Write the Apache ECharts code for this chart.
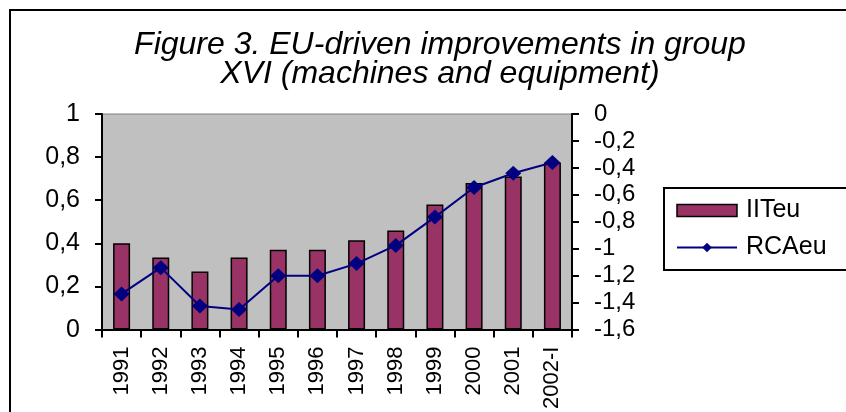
<!DOCTYPE html>
<html>
<head>
<meta charset="utf-8">
<script src="https://cdn.jsdelivr.net/npm/echarts@6/dist/echarts.min.js"></script>
<style>
html,body{margin:0;padding:0;background:#fff;}
#chart{width:846px;height:412px;}
</style>
</head>
<body>
<div id="chart"></div>
<script>
const categories = ['1991','1992','1993','1994','1995','1996','1997','1998','1999','2000','2001','2002-I'];
const iiteu = [0.40, 0.335, 0.27, 0.335, 0.37, 0.37, 0.415, 0.46, 0.58, 0.68, 0.71, 0.775];
const rcaeu = [-1.335, -1.14, -1.425, -1.45, -1.20, -1.20, -1.11, -0.975, -0.765, -0.545, -0.44, -0.36];
const leftTickLabels = ['0','0,2','0,4','0,6','0,8','1'];
const rightTickLabels = ['-1,6','-1,4','-1,2','-1','-0,8','-0,6','-0,4','-0,2','0'];
const titleText = 'Figure 3. EU-driven improvements in group\nXVI (machines and equipment)';

const FONT = 'Liberation Sans, Arial, sans-serif';
const chart = echarts.init(document.getElementById('chart'));
chart.setOption({
  animation: false,
  backgroundColor: '#ffffff',
  graphic: [{
    type: 'rect', silent: true, z: -10,
    shape: {x: 10, y: 10, width: 900, height: 500},
    style: {fill: 'none', stroke: '#000', lineWidth: 2}
  }],
  title: {
    text: titleText,
    left: 440, top: 31, padding: 0,
    textAlign: 'center',
    textStyle: {fontFamily: FONT, fontStyle: 'italic', fontWeight: 'normal', fontSize: 32, lineHeight: 29, color: '#000'}
  },
  grid: {
    left: 102, top: 114, right: 274, bottom: 79,
    show: true, backgroundColor: '#c0c0c0', borderColor: '#808080', borderWidth: 1
  },
  legend: {
    orient: 'vertical', left: 664, top: 188,
    padding: [10, 30, 10, 12],
    itemWidth: 60, itemHeight: 12, itemGap: 12,
    borderColor: '#000', borderWidth: 2, backgroundColor: '#fff',
    textStyle: {fontFamily: FONT, fontSize: 25, color: '#000', padding: [0, 0, 0, 4]},
    data: [
      {name: 'IITeu', icon: 'rect', itemStyle: {color: '#993366', borderColor: '#000', borderWidth: 1.5}},
      {name: 'RCAeu'}
    ]
  },
  xAxis: {
    type: 'category', data: categories, boundaryGap: true,
    axisLine: {lineStyle: {color: '#000', width: 2}},
    axisTick: {show: true, length: 8, lineStyle: {color: '#000', width: 2}},
    axisLabel: {rotate: 90, margin: 17, fontFamily: FONT, fontSize: 22, color: '#000', interval: 0}
  },
  yAxis: [{
    type: 'value', min: 0, max: 1, interval: 0.2, position: 'left',
    axisLine: {show: true, lineStyle: {color: '#000', width: 2}},
    axisTick: {show: true, length: 7, lineStyle: {color: '#000', width: 2}},
    splitLine: {show: false},
    axisLabel: {margin: 22, fontFamily: FONT, fontSize: 25, color: '#000',
      formatter: (v, i) => leftTickLabels[i]}
  }, {
    type: 'value', min: -1.6, max: 0, interval: 0.2, position: 'right',
    axisLine: {show: true, lineStyle: {color: '#000', width: 2}},
    axisTick: {show: true, length: 7, lineStyle: {color: '#000', width: 2}},
    splitLine: {show: false},
    axisLabel: {margin: 22, fontFamily: FONT, fontSize: 24, color: '#000',
      formatter: (v, i) => rightTickLabels[i]}
  }],
  series: [{
    name: 'IITeu', type: 'bar', data: iiteu, barWidth: 17, yAxisIndex: 0,
    itemStyle: {color: '#993366', borderColor: '#000', borderWidth: 1.5}
  }, {
    name: 'RCAeu', type: 'line', data: rcaeu, yAxisIndex: 1,
    symbol: 'diamond', symbolSize: [16, 15], z: 5,
    lineStyle: {color: '#000080', width: 2},
    itemStyle: {color: '#000080'}
  }]
});
</script>
</body>
</html>
